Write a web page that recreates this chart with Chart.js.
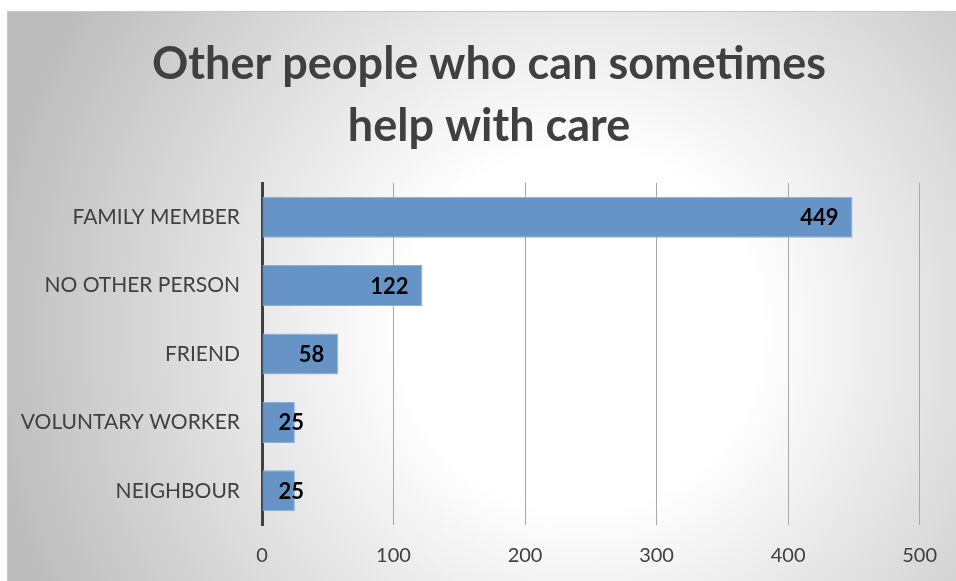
<!DOCTYPE html>
<html>
<head>
<meta charset="utf-8">
<script src="https://cdn.jsdelivr.net/npm/chart.js@4.4.1/dist/chart.umd.min.js"></script>
<style>
  html, body { margin: 0; padding: 0; background: #ffffff; }
  #wrap { width: 956px; height: 581px; position: relative; }
</style>
</head>
<body>
<div id="wrap"><canvas id="chart" width="956" height="581"></canvas></div>
<script>
// Who else can sometimes help with care (number of respondents)
const categories = ['FAMILY MEMBER', 'NO OTHER PERSON', 'FRIEND', 'VOLUNTARY WORKER', 'NEIGHBOUR'];
const counts = [449, 122, 58, 25, 25];
const axisTicks = [0, 100, 200, 300, 400, 500];
const titleLines = ['Other people who can sometimes', 'help with care'];

const TEXT = '#404040';
const FONT = 'Lato, "Open Sans", sans-serif';

// Card background: soft radial fade from white to grey
const cardBackground = {
  id: 'cardBackground',
  beforeDraw(chart) {
    const { ctx } = chart;
    const x0 = 7, y0 = 11, x1 = chart.width, y1 = chart.height;
    ctx.save();
    const g = ctx.createRadialGradient(580, 330, 0, 580, 330, 600);
    g.addColorStop(0, '#ffffff');
    g.addColorStop(0.3, '#ffffff');
    g.addColorStop(1, '#bcbcbc');
    ctx.fillStyle = g;
    ctx.fillRect(x0, y0, x1 - x0, y1 - y0);
    ctx.strokeStyle = '#c8c8c8';
    ctx.lineWidth = 1;
    ctx.strokeRect(x0 + 0.5, y0 + 0.5, x1 - x0, y1 - y0);
    ctx.restore();
  }
};

// Two-line heading above the plot
const heading = {
  id: 'heading',
  afterDraw(chart) {
    const { ctx } = chart;
    ctx.save();
    ctx.font = 'bold 45px ' + FONT;
    ctx.fillStyle = TEXT;
    ctx.textAlign = 'center';
    ctx.textBaseline = 'alphabetic';
    ctx.fillText(titleLines[0], 489, 79);
    ctx.fillText(titleLines[1], 489, 141);
    ctx.restore();
  }
};

// Bold value labels placed at the inside end of each bar
const valueLabels = {
  id: 'valueLabels',
  afterDatasetsDraw(chart) {
    const { ctx } = chart;
    const meta = chart.getDatasetMeta(0);
    ctx.save();
    ctx.font = 'bold 22px ' + FONT;
    ctx.fillStyle = '#000000';
    ctx.textAlign = 'right';
    ctx.textBaseline = 'middle';
    meta.data.forEach((bar, i) => {
      const text = String(chart.data.datasets[0].data[i]);
      const w = ctx.measureText(text).width;
      const right = Math.max(bar.x - 14, bar.base + 16 + w);
      ctx.fillText(text, right, bar.y + 1);
    });
    ctx.restore();
  }
};

new Chart(document.getElementById('chart'), {
  type: 'bar',
  data: {
    labels: categories,
    datasets: [{
      data: counts,
      backgroundColor: '#6794c7',
      borderColor: '#8db0da',
      borderWidth: 1,
      borderSkipped: false,
      barPercentage: 0.6,
      categoryPercentage: 1.0
    }]
  },
  options: {
    indexAxis: 'y',
    responsive: false,
    animation: false,
    devicePixelRatio: 1,
    layout: { padding: { left: 0, right: 35, top: 183, bottom: 0 } },
    plugins: {
      legend: { display: false },
      tooltip: { enabled: false },
      title: { display: false }
    },
    scales: {
      x: {
        min: 0,
        max: 500,
        afterBuildTicks(scale) { scale.ticks = axisTicks.map(v => ({ value: v })); },
        afterFit(scale) { scale.height = 581 - 525; },
        grid: { color: '#a8a8a8', lineWidth: 1, drawTicks: false },
        border: { display: false },
        ticks: { color: TEXT, font: { family: FONT, size: 20 }, padding: 19 }
      },
      y: {
        afterFit(scale) { scale.width = 262; },
        grid: { display: false, drawTicks: false },
        border: { display: true, color: '#404040', width: 3 },
        ticks: { color: TEXT, font: { family: FONT, size: 21 }, padding: 22 }
      }
    }
  },
  plugins: [cardBackground, heading, valueLabels]
});
</script>
</body>
</html>
